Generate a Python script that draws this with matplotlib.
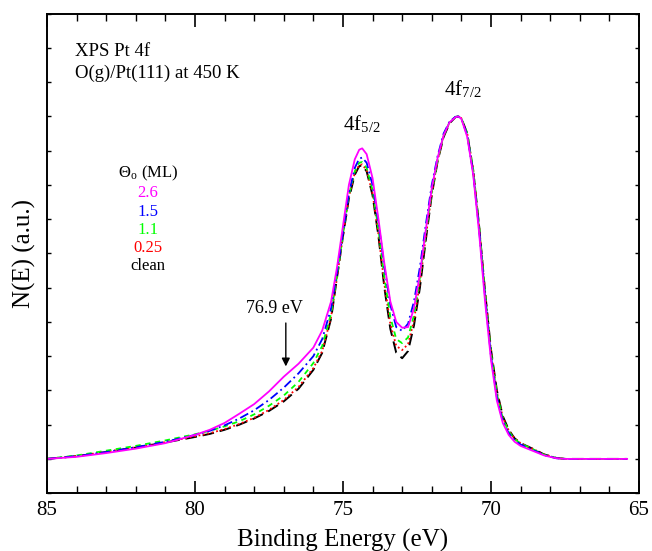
import matplotlib
matplotlib.use("Agg")
import matplotlib.pyplot as plt
from matplotlib.ticker import MultipleLocator

plt.rcParams["font.family"] = ["Liberation Serif", "DejaVu Serif"]
plt.rcParams["mathtext.fontset"] = "stix"

# Binding energy grid (eV) and spectra (peak normalised to 10)
energy = [85, 84, 83, 82, 81, 80, 79.5, 79, 78.5, 78, 77.5, 77, 76.5, 76, 75.7,
          75.4, 75.2, 75.0, 74.8, 74.6, 74.45, 74.35, 74.2, 74.0, 73.8, 73.6,
          73.4, 73.2, 73.0, 72.8, 72.6, 72.4, 72.2, 72.0, 71.8, 71.6, 71.4,
          71.2, 71.1, 71.0, 70.8, 70.6, 70.4, 70.2, 70.0, 69.8, 69.6, 69.4,
          69.2, 69.0, 68.6, 68.2, 67.8, 67.5, 65.4]

cov_26 = [0, 0.06, 0.17, 0.3, 0.46, 0.7, 0.85, 1.05, 1.32, 1.6, 1.97, 2.4, 2.78,
          3.25, 3.75, 4.6, 5.6, 6.8, 8.0, 8.75, 9.03, 9.07, 8.9, 8.2, 7.0, 5.7,
          4.6, 4.0, 3.83, 3.85, 4.4, 5.4, 6.7, 7.9, 8.8, 9.45, 9.83, 9.98, 10.0,
          9.93, 9.4, 8.3, 6.6, 4.6, 2.9, 1.7, 1.05, 0.7, 0.5, 0.38, 0.24, 0.1,
          0.02, 0, 0]
cov_15 = [0, 0.08, 0.2, 0.34, 0.5, 0.7, 0.82, 0.98, 1.18, 1.42, 1.72, 2.08, 2.5,
          3.0, 3.5, 4.4, 5.45, 6.6, 7.75, 8.5, 8.77, 8.8, 8.65, 8.0, 6.9, 5.6,
          4.5, 3.85, 3.74, 3.95, 4.6, 5.6, 6.85, 8.0, 8.85, 9.5, 9.85, 9.99, 10.0,
          9.94, 9.45, 8.35, 6.7, 4.75, 3.0, 1.8, 1.1, 0.75, 0.55, 0.42, 0.27,
          0.11, 0.02, 0, 0]
cov_11 = [0, 0.1, 0.24, 0.38, 0.54, 0.72, 0.82, 0.95, 1.1, 1.3, 1.55, 1.85, 2.25,
          2.8, 3.3, 4.25, 5.35, 6.55, 7.7, 8.4, 8.65, 8.67, 8.5, 7.85, 6.7, 5.3,
          4.15, 3.5, 3.38, 3.55, 4.2, 5.3, 6.6, 7.8, 8.75, 9.45, 9.83, 9.99, 10.0,
          9.95, 9.5, 8.45, 6.8, 4.85, 3.1, 1.9, 1.18, 0.8, 0.58, 0.45, 0.29,
          0.12, 0.03, 0, 0]
cov_025 = [0, 0.08, 0.21, 0.34, 0.49, 0.66, 0.75, 0.87, 1.02, 1.2, 1.43, 1.72,
           2.1, 2.65, 3.15, 4.15, 5.3, 6.5, 7.65, 8.35, 8.58, 8.6, 8.43, 7.75,
           6.55, 5.1, 3.95, 3.3, 3.18, 3.35, 4.05, 5.15, 6.5, 7.75, 8.72, 9.42,
           9.82, 9.98, 10.0, 9.95, 9.5, 8.45, 6.8, 4.9, 3.15, 1.95, 1.22, 0.83,
           0.6, 0.46, 0.3, 0.13, 0.03, 0, 0]
clean = [0, 0.08, 0.2, 0.33, 0.48, 0.64, 0.73, 0.85, 1.0, 1.18, 1.4, 1.68, 2.05,
         2.6, 3.1, 4.1, 5.3, 6.5, 7.6, 8.3, 8.55, 8.57, 8.4, 7.7, 6.5, 5.0, 3.8,
         3.1, 2.94, 3.15, 3.9, 5.0, 6.4, 7.7, 8.7, 9.4, 9.8, 9.98, 10.0, 9.95,
         9.5, 8.4, 6.8, 4.9, 3.2, 2.0, 1.25, 0.85, 0.6, 0.46, 0.3, 0.13, 0.03,
         0.0, 0.0]

labels = ["2.6", "1.5", "1.1", "0.25", "clean"]
colors = ["#ff00ff", "#0000ff", "#00ff00", "#ff0000", "#000000"]

fig = plt.figure(figsize=(6.52, 5.51), dpi=100)
ax = fig.add_axes([0.072, 0.105, 0.908, 0.870])

# draw clean first so the coloured lines sit on top
ax.plot(energy, clean, color="black", lw=1.4, ls=(0, (6, 3)))
ax.plot(energy, cov_025, color="red", lw=1.3, ls=(0, (1, 1.5)))
ax.plot(energy, cov_11, color="#00ff00", lw=1.3, ls=(0, (3, 2.5)))
ax.plot(energy, cov_15, color="blue", lw=1.3, ls=(0, (5, 2, 1, 2)))
ax.plot(energy, cov_26, color="#ff00ff", lw=1.3, ls="-")

ax.set_xlim(85, 65)
ax.set_ylim(-1, 13)
ax.xaxis.set_major_locator(MultipleLocator(5))
ax.xaxis.set_minor_locator(MultipleLocator(1))
ax.yaxis.set_major_locator(MultipleLocator(1))
ax.tick_params(axis="x", which="major", direction="in", length=9, width=1.2,
               top=True, labelsize=15, pad=6)
ax.tick_params(axis="x", which="minor", direction="in", length=5, width=1.0, top=True)
ax.tick_params(axis="y", which="major", direction="in", length=3, width=1.0,
               right=True, labelleft=False)
for s in ax.spines.values():
    s.set_linewidth(1.4)

ax.set_xlabel("Binding Energy (eV)", fontsize=18, labelpad=6)
ax.set_ylabel("N(E) (a.u.)", fontsize=18, labelpad=8)

ax.text(84.05, 11.78, "XPS Pt 4f", fontsize=13.5, va="baseline")
ax.text(84.05, 11.14, "O(g)/Pt(111) at 450 K", fontsize=13.5, va="baseline")

ax.text(81.59, 8.22, r"Θ$_{\mathregular{o}}$ (ML)", fontsize=12, ha="center", va="baseline")
yl = [7.64, 7.09, 6.56, 6.03, 5.51]
for lab, c, yy in zip(labels, colors, yl):
    ax.text(81.59, yy, lab, color=c, fontsize=12, ha="center", va="baseline")

ax.text(75.0, 9.59, r"4f$_{\mathregular{5/2}}$", fontsize=15, va="baseline")
ax.text(71.6, 10.61, r"4f$_{\mathregular{7/2}}$", fontsize=15, va="baseline")

ax.text(77.3, 4.26, "76.9 eV", fontsize=13, ha="center", va="baseline")
ax.annotate("", xy=(76.93, 2.62), xytext=(76.93, 4.05),
            arrowprops=dict(arrowstyle="-|>", color="black", lw=1.0,
                            mutation_scale=12))

fig.savefig("out.png", dpi=100)
